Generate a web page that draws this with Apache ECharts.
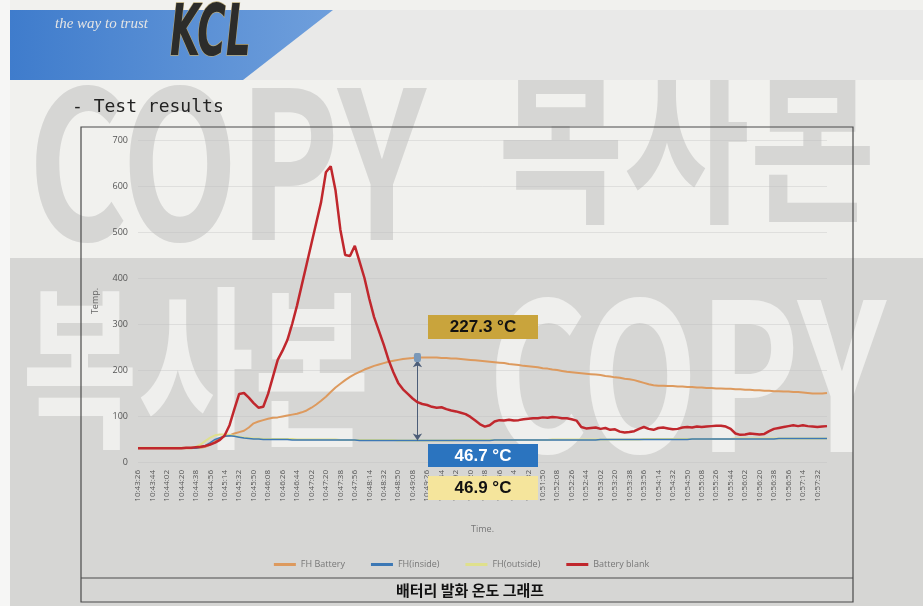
<!DOCTYPE html>
<html>
<head>
<meta charset="utf-8">
<title>배터리 발화 온도 그래프</title>
<script src="https://cdn.jsdelivr.net/npm/echarts@6/dist/echarts.min.js"></script>
<style>
  html, body { margin: 0; padding: 0; background: #f1f1ee; }
  #main { width: 923px; height: 606px; }
</style>
</head>
<body>
<div id="main"></div>
<script>
// x축 눈금 (18초 간격)
const tickLabels = [
  '10:43:26', '10:43:44', '10:44:02', '10:44:20', '10:44:38', '10:44:56', '10:45:14', '10:45:32',
  '10:45:50', '10:46:08', '10:46:26', '10:46:44', '10:47:02', '10:47:20', '10:47:38', '10:47:56',
  '10:48:14', '10:48:32', '10:48:50', '10:49:08', '10:49:26', '10:49:44', '10:50:02', '10:50:20',
  '10:50:38', '10:50:56', '10:51:14', '10:51:32', '10:51:50', '10:52:08', '10:52:26', '10:52:44',
  '10:53:02', '10:53:20', '10:53:38', '10:53:56', '10:54:14', '10:54:32', '10:54:50', '10:55:08',
  '10:55:26', '10:55:44', '10:56:02', '10:56:20', '10:56:38', '10:56:56', '10:57:14', '10:57:32'
]
// 눈금 하나에 측정값 3개 (6초 간격)
const samplesPerTick = 3

const seriesNames = ['FH Battery', 'FH(inside)', 'FH(outside)', 'Battery blank']
const seriesColors = ['#dd9a5e', '#3c78b5', '#dfe08c', '#c0272d']

const fhBattery = [
  30, 30, 30, 30, 30, 30, 30, 30, 30, 30,
  30, 30, 31, 31, 33, 38, 45, 52, 56, 58,
  62, 65, 68, 75, 84, 88, 91, 94, 96, 97,
  99, 101, 103, 105, 108, 112, 118, 125, 133, 142,
  152, 162, 170, 178, 185, 191, 196, 201, 205, 209,
  212, 215, 218, 220, 222, 224, 225, 226, 227.3, 227,
  227, 227, 227, 226, 226, 225, 225, 224, 223, 222,
  221, 220, 219, 218, 217, 216, 215, 213, 212, 211,
  209, 208, 207, 206, 204, 203, 201, 200, 198, 196,
  195, 194, 193, 192, 191, 190, 189, 187, 186, 184,
  183, 181, 180, 178, 175, 172, 169, 167, 166, 166,
  165, 165, 164, 164, 163, 163, 162, 162, 161, 161,
  160, 160, 159, 159, 158, 158, 157, 157, 156, 156,
  155, 155, 154, 154, 153, 153, 152, 152, 151, 150,
  149, 149, 149, 150
]
const fhInside = [
  30, 30, 30, 30, 30, 30, 30, 30, 30, 30,
  30, 30, 30, 32, 36, 42, 49, 53, 56, 57,
  56, 54, 52, 51, 50, 50, 49, 49, 49, 49,
  49, 49, 48, 48, 48, 48, 48, 48, 48, 48,
  48, 48, 48, 48, 48, 48, 47, 47, 47, 47,
  47, 47, 47, 47, 47, 47, 47, 47, 46.7, 47,
  47, 47, 47, 47, 47, 47, 47, 47, 47, 47,
  47, 47, 47, 47, 48, 48, 48, 48, 48, 48,
  48, 48, 48, 48, 48, 48, 48, 48, 48, 48,
  48, 48, 48, 48, 48, 48, 49, 49, 49, 49,
  49, 49, 49, 49, 49, 49, 49, 49, 49, 49,
  49, 49, 49, 49, 49, 50, 50, 50, 50, 50,
  50, 50, 50, 50, 50, 50, 50, 50, 50, 50,
  50, 50, 50, 51, 51, 51, 51, 51, 51, 51,
  51, 51, 51, 51
]
const fhOutside = [
  31, 31, 31, 31, 31, 31, 31, 31, 31, 31,
  31, 31, 33, 38, 46, 53, 58, 60, 60, 59,
  57, 55, 53, 52, 51, 51, 50, 50, 50, 50,
  50, 50, 50, 49, 49, 49, 49, 49, 49, 49,
  49, 49, 48, 48, 48, 48, 48, 48, 48, 48,
  48, 48, 48, 48, 47, 47, 47, 47, 46.9, 47,
  47, 47, 47, 47, 47, 47, 48, 48, 48, 48,
  48, 48, 48, 48, 48, 48, 48, 48, 48, 48,
  48, 48, 48, 48, 48, 48, 49, 49, 49, 49,
  49, 49, 49, 49, 49, 49, 49, 49, 49, 49,
  49, 49, 49, 49, 49, 50, 50, 50, 50, 50,
  50, 50, 50, 50, 50, 50, 50, 50, 50, 50,
  50, 50, 50, 50, 51, 51, 51, 51, 51, 51,
  51, 51, 51, 51, 51, 51, 51, 51, 51, 51,
  51, 51, 51, 51
]
const batteryBlank = [
  30, 30, 30, 30, 30, 30, 30, 30, 30, 30,
  31, 31, 32, 33, 35, 38, 42, 48, 58, 80,
  115, 148, 150, 140, 128, 118, 120, 148, 185, 222,
  242, 265, 300, 340, 385, 430, 475, 520, 565, 630,
  643, 590, 505, 450, 448, 470, 435, 400, 355, 315,
  285, 255, 222, 195, 172, 158, 148, 138, 130, 126,
  124, 120, 118, 119, 115, 112, 110, 107, 104, 98,
  90, 82, 77, 80, 88, 91, 90, 92, 90, 91,
  93, 94, 95, 95, 97, 96, 98, 97, 95, 95,
  93, 90, 76, 73, 74, 75, 72, 74, 70, 71,
  66, 64, 65, 67, 72, 76, 72, 70, 74, 75,
  73, 71, 72, 75, 76, 75, 77, 76, 77, 78,
  79, 79, 77, 72, 62, 59, 60, 62, 61, 60,
  61, 67, 72, 74, 76, 78, 80, 78, 80, 78,
  77, 76, 77, 78
]

// 주석 (최고온도 지점)
const markIndex = 58
const markTop = 227.3
const markInside = 46.7
const markOutside = 46.9

// 눈금 시각에서 6초 간격 카테고리 만들기
function addSeconds (t, s) {
  const p = t.split(':').map(Number)
  let total = p[0] * 3600 + p[1] * 60 + p[2] + s
  const h = Math.floor(total / 3600)
  const m = Math.floor((total % 3600) / 60)
  const sec = total % 60
  return h + ':' + String(m).padStart(2, '0') + ':' + String(sec).padStart(2, '0')
}
const categories = []
tickLabels.forEach(t => {
  for (let k = 0; k < samplesPerTick; k++) categories.push(addSeconds(t, k * 6))
})

const chart = echarts.init(document.getElementById('main'))

const wmFont = '"Noto Sans CJK KR", "Noto Sans", sans-serif'
const boxFont = 'bold 17px "Liberation Sans", Arial, sans-serif'

function lineSeries (idx, data, width, z) {
  return {
    name: seriesNames[idx],
    type: 'line',
    data: data,
    showSymbol: false,
    z: z,
    itemStyle: { color: seriesColors[idx] },
    lineStyle: { width: width, color: seriesColors[idx] }
  }
}

const battery = lineSeries(0, fhBattery, 2, 3)
battery.markLine = {
  silent: true,
  symbol: ['arrow', 'arrow'],
  symbolSize: 7,
  label: { show: false },
  lineStyle: { color: '#4c5d78', width: 1, type: 'solid' },
  data: [[{ coord: [markIndex, markTop - 6] }, { coord: [markIndex, markInside] }]]
}
battery.markPoint = {
  silent: true,
  symbol: 'roundRect',
  symbolSize: [7, 9],
  itemStyle: { color: '#7a98b8' },
  label: { show: false },
  data: [{ coord: [markIndex, markTop] }]
}

const option = {
  backgroundColor: '#f1f1ee',
  animation: false,
  graphic: [
    // 스캔 배경
    { type: 'rect', z: 0, silent: true, shape: { x: 0, y: 0, width: 10, height: 606 }, style: { fill: '#f6f6f5' } },
    { type: 'rect', z: 0, silent: true, shape: { x: 10, y: 258, width: 913, height: 348 }, style: { fill: '#d6d6d4' } },
    // 워터마크
    { type: 'text', z: 0, silent: true, x: 28, y: 60, scaleX: 0.74,
      style: { text: 'COPY', font: 'bold 205px ' + wmFont, fill: '#d6d6d4' } },
    { type: 'text', z: 0, silent: true, x: 498, y: 50, scaleX: 0.76,
      style: { text: '복사본', font: 'bold 180px ' + wmFont, fill: '#d6d6d4' } },
    { type: 'text', z: 0, silent: true, x: 22, y: 280, scaleX: 0.72,
      style: { text: '복사본', font: 'bold 175px ' + wmFont, fill: '#efefed' } },
    { type: 'text', z: 0, silent: true, x: 488, y: 272, scaleX: 0.74,
      style: { text: 'COPY', font: 'bold 205px ' + wmFont, fill: '#efefed' } },
    // 헤더
    { type: 'rect', z: 0, silent: true, shape: { x: 10, y: 10, width: 913, height: 70 }, style: { fill: '#e9e9e8' } },
    { type: 'polygon', z: 0, silent: true,
      shape: { points: [[10, 10], [333, 10], [243, 80], [10, 80]] },
      style: { fill: new echarts.graphic.LinearGradient(0, 0, 1, 0, [{ offset: 0, color: '#3f7ccc' }, { offset: 1, color: '#6f9fdc' }]) } },
    { type: 'text', z: 1, silent: true, x: 55, y: 17,
      style: { text: 'the way to trust', font: 'italic 15px "Liberation Serif", serif', fill: '#e4e4e4' } },
    { type: 'text', z: 1, silent: true, x: 170, y: 0, scaleX: 0.6,
      style: { text: 'KCL', font: 'italic bold 72px "Liberation Sans Narrow", "DejaVu Sans Condensed", sans-serif', fill: '#2c2c2a', stroke: '#b9a978', lineWidth: 1.5 } },
    { type: 'text', z: 1, silent: true, x: 72, y: 98,
      style: { text: '- Test results', font: '18px "DejaVu Sans Mono", monospace', fill: '#222' } },
    // 그래프 틀
    { type: 'rect', z: 1, silent: true, shape: { x: 81, y: 127, width: 772, height: 475 }, style: { fill: 'none', stroke: '#4a4a4a', lineWidth: 1.2 } },
    { type: 'line', z: 1, silent: true, shape: { x1: 81, y1: 578, x2: 853, y2: 578 }, style: { stroke: '#4a4a4a', lineWidth: 1.2 } },
    { type: 'text', z: 1, silent: true, x: 470, y: 590,
      style: { text: '배터리 발화 온도 그래프', font: 'bold 15px "Noto Sans CJK KR", sans-serif', fill: '#111', align: 'center', verticalAlign: 'middle' } },
    // 온도 표시 상자
    { type: 'group', z: 100, children: [
      { type: 'rect', z: 100, shape: { x: 428, y: 315, width: 110, height: 24 }, style: { fill: '#c9a43c' } },
      { type: 'text', z: 101, x: 483, y: 327, style: { text: markTop + ' °C', font: boxFont, fill: '#111', align: 'center', verticalAlign: 'middle' } },
      { type: 'rect', z: 100, shape: { x: 428, y: 444, width: 110, height: 23 }, style: { fill: '#2b74bf' } },
      { type: 'text', z: 101, x: 483, y: 456, style: { text: markInside + ' °C', font: boxFont, fill: '#fff', align: 'center', verticalAlign: 'middle' } },
      { type: 'rect', z: 100, shape: { x: 428, y: 476, width: 110, height: 24 }, style: { fill: '#f5e59c' } },
      { type: 'text', z: 101, x: 483, y: 488, style: { text: markOutside + ' °C', font: boxFont, fill: '#111', align: 'center', verticalAlign: 'middle' } }
    ] }
  ],
  legend: {
    data: seriesNames,
    top: 555,
    left: 'center',
    itemWidth: 22,
    itemHeight: 3,
    itemGap: 26,
    icon: 'rect',
    textStyle: { fontSize: 9, color: '#777', fontFamily: 'Open Sans' }
  },
  grid: { left: 138, right: 96, top: 140, bottom: 144 },
  xAxis: {
    type: 'category',
    z: 1,
    data: categories,
    boundaryGap: false,
    name: 'Time.',
    nameLocation: 'middle',
    nameGap: 63,
    nameTextStyle: { fontSize: 9, color: '#777', fontFamily: 'Open Sans' },
    axisLine: { show: false },
    axisTick: { show: false },
    axisLabel: { interval: samplesPerTick - 1, rotate: 90, fontSize: 8, color: '#555', margin: 8, fontFamily: 'Open Sans' },
    splitLine: { show: false }
  },
  yAxis: {
    type: 'value',
    z: 1,
    min: 0,
    max: 700,
    interval: 100,
    name: 'Temp.',
    nameLocation: 'middle',
    nameGap: 38,
    nameRotate: 90,
    nameTextStyle: { fontSize: 9, color: '#666', fontFamily: 'Open Sans' },
    axisLine: { show: false },
    axisTick: { show: false },
    axisLabel: { fontSize: 9, color: '#555', margin: 10, fontFamily: 'Open Sans' },
    splitLine: { lineStyle: { color: 'rgba(190,190,190,0.35)', width: 1 } }
  },
  series: [
    battery,
    lineSeries(2, fhOutside, 2, 3),
    lineSeries(1, fhInside, 1.5, 4),
    lineSeries(3, batteryBlank, 2.5, 5)
  ]
}

chart.setOption(option)
</script>
</body>
</html>
